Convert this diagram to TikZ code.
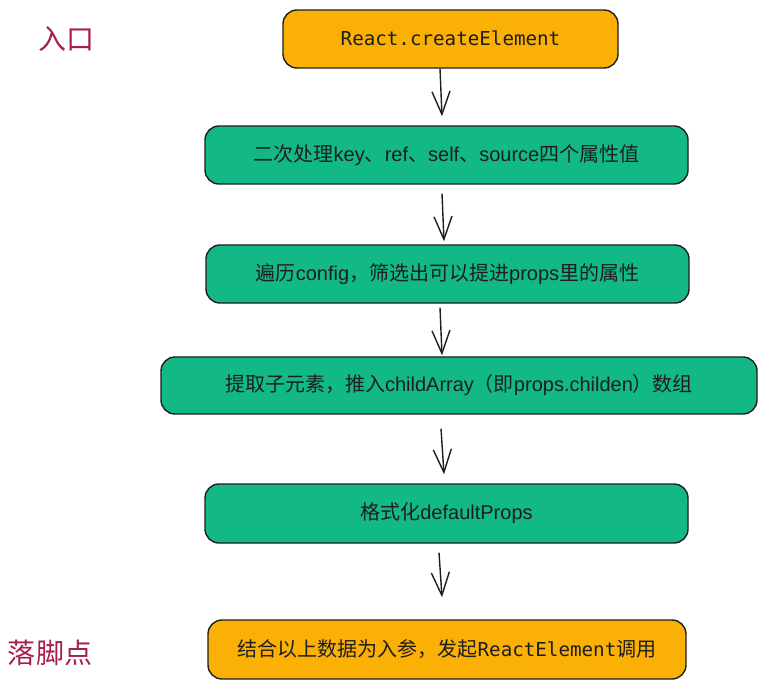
\documentclass[tikz,border=0pt]{standalone}
\usepackage{fontspec}
\setmainfont{Liberation Sans}
\newfontfamily\cjk{Noto Sans CJK SC}
\newfontfamily\mono[Scale=0.96]{DejaVu Sans Mono}
\usetikzlibrary{arrows.meta}
\definecolor{boxorange}{HTML}{FAB005}
\definecolor{boxgreen}{HTML}{12B886}
\definecolor{ink}{HTML}{1E1E1E}
\definecolor{labelred}{HTML}{A61E4D}
\tikzset{
  stepbox/.style={draw=ink, line width=1.4pt, rounded corners=14pt, inner sep=0pt,
    text=ink, font=\fontsize{20}{24}\selectfont, align=center},
  orangebox/.style={stepbox, fill=boxorange},
  greenbox/.style={stepbox, fill=boxgreen},
  sidelabel/.style={text=labelred, font=\cjk\fontsize{28}{32}\selectfont, inner sep=0pt},
  arr/.style={draw=ink, line width=1.4pt, -{Straight Barb[length=23pt, width=18pt, line width=1.4pt]}}
}
\begin{document}
\begin{tikzpicture}[x=1pt, y=-1pt]
\useasboundingbox (0,0) rectangle (767,688);

\node[orangebox, minimum width=335pt, minimum height=58pt] (b1) at (450.5,39)
  {\raisebox{2pt}{\mono React.createElement}};
\node[greenbox, minimum width=483pt, minimum height=58pt] (b2) at (446.5,155)
  {{\cjk 二次处理}key{\cjk 、}ref{\cjk 、}self{\cjk 、}source{\cjk 四个属性值}};
\node[greenbox, minimum width=483pt, minimum height=58pt] (b3) at (447.5,274)
  {{\cjk 遍历}config{\cjk ，筛选出可以提进}props{\cjk 里的属性}};
\node[greenbox, minimum width=596pt, minimum height=57pt] (b4) at (459,385.5)
  {{\cjk 提取子元素，推入}childArray{\cjk （即}props.childen{\cjk ）数组}};
\node[greenbox, minimum width=483pt, minimum height=59pt] (b5) at (446.5,513.5)
  {{\cjk 格式化}defaultProps};
\node[orangebox, minimum width=478pt, minimum height=59pt] (b6) at (447,649.5)
  {{\cjk 结合以上数据为入参，发起}{\mono ReactElement}{\cjk 调用}};

\node[sidelabel] (l1) at (66,39) {入口};
\node[sidelabel] (l2) at (50,653) {落脚点};

\draw[arr] ([xshift=-10.5pt]b1.south) -- ([xshift=-4.5pt,yshift=9pt]b2.north);
\draw[arr] ([xshift=-4.5pt,yshift=-9pt]b2.south) -- ([xshift=-3.5pt,yshift=3pt]b3.north);
\draw[arr] ([xshift=-7.5pt,yshift=-4pt]b3.south) -- ([xshift=-17pt,yshift=1pt]b4.north);
\draw[arr] ([xshift=-18pt,yshift=-14pt]b4.south) -- ([xshift=-2.5pt,yshift=9pt]b5.north);
\draw[arr] ([xshift=-7.5pt,yshift=-9pt]b5.south) -- ([xshift=-5pt,yshift=22pt]b6.north);
\end{tikzpicture}
\end{document}
